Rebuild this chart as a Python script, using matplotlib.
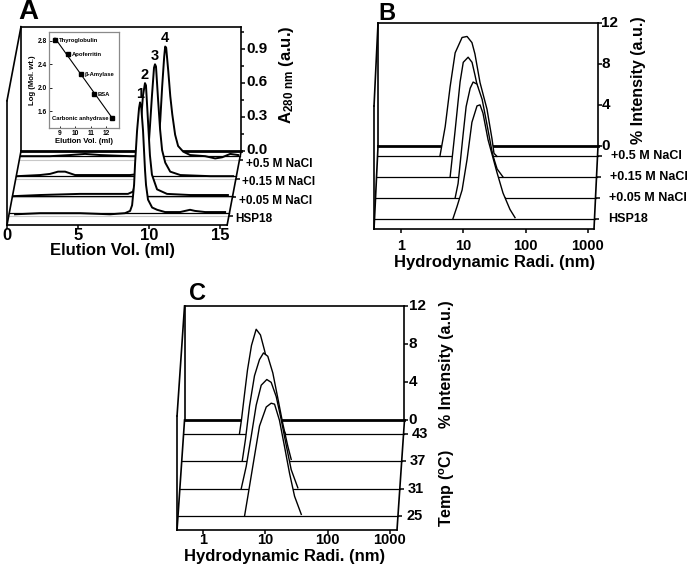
import numpy as np
import matplotlib
matplotlib.use("Agg")
import matplotlib.pyplot as plt

plt.rcParams["font.family"] = ["Liberation Sans", "DejaVu Sans"]
plt.rcParams["font.weight"] = "bold"
plt.rcParams["mathtext.fontset"] = "custom"
plt.rcParams["mathtext.rm"] = "Liberation Sans:bold"
plt.rcParams["mathtext.bf"] = "Liberation Sans:bold"
plt.rcParams["mathtext.it"] = "Liberation Sans:bold"

W, H = 691, 567

# ---------------- data ----------------
# Panel A: SEC elution profiles (elution volume ml, A280)
A_LABELS = ["+0.5 M NaCl", "+0.15 M NaCl", "+0.05 M NaCl", "HSP18"]
A_PEAK_TAGS = ["4", "3", "2", "1"]
A_DEPTHS = [0.07, 0.34, 0.61, 0.84]
A_X_05 = [0.08, 2.12, 3.53, 4.58, 5.64, 7.75, 9.16, 9.51, 9.73, 9.87, 10.01, 10.15, 10.22,
          10.29, 10.44, 10.58, 10.72, 10.92, 11.13, 11.49, 11.98, 13.04, 13.74, 14.23, 14.80, 15.36]
A_Y_05 = [0.0, 0.0, 0.01, 0.02, 0.01, 0.0, 0.0, 0.02, 0.13, 0.31, 0.62, 0.88, 0.97,
          0.96, 0.75, 0.53, 0.37, 0.19, 0.09, 0.04, 0.01, 0.0, -0.02, -0.01, 0.02, 0.01]
A_X_015 = [0.06, 1.68, 2.38, 2.94, 3.44, 4.14, 5.90, 8.01, 8.72, 9.07, 9.28, 9.42, 9.56, 9.70,
           9.77, 9.84, 9.99, 10.13, 10.27, 10.49, 10.84, 11.55, 13.65, 15.27]
A_Y_015 = [0.0, 0.01, 0.02, 0.04, 0.04, 0.01, 0.01, 0.01, 0.02, 0.05, 0.19, 0.45, 0.72, 0.96,
           0.99, 0.97, 0.67, 0.41, 0.23, 0.12, 0.04, 0.01, 0.0, 0.0]
A_X_005 = [0.04, 1.94, 4.75, 6.87, 8.13, 8.49, 8.70, 8.91, 9.05, 9.19, 9.33, 9.40, 9.54, 9.68,
           9.82, 10.18, 10.88, 12.5, 13.91, 15.17]
A_Y_005 = [0.0, 0.01, 0.02, 0.02, 0.02, 0.04, 0.14, 0.41, 0.67, 0.89, 1.0, 0.98, 0.67, 0.36,
           0.19, 0.06, 0.02, 0.01, 0.01, 0.01]
A_X_HSP = [0.41, 2.17, 4.99, 7.10, 8.15, 8.51, 8.65, 8.79, 8.86, 9.00, 9.14, 9.21, 9.28, 9.42,
           9.56, 9.63, 9.77, 10.06, 10.41, 10.97, 12.03, 12.73, 13.08, 13.79, 15.2]
A_Y_HSP = [-0.01, 0.0, 0.0, -0.01, 0.0, 0.02, 0.07, 0.25, 0.44, 0.73, 0.93, 0.98, 0.96, 0.73,
           0.38, 0.25, 0.12, 0.05, 0.03, 0.01, 0.01, 0.03, 0.02, 0.01, 0.01]

# Panel A inset: calibration standards
STD_NAMES = ["Thyroglobulin", "Apoferritin", "\u03b2-Amylase", "BSA", "Carbonic anhydrase"]
STD_VOL = [8.67, 9.54, 10.39, 11.23, 12.42]
STD_LOGMW = [2.81, 2.57, 2.23, 1.885, 1.476]

# Panel B: DLS, salt series (radius nm, % intensity)
B_LABELS = ["+0.5 M NaCl", "+0.15 M NaCl", "+0.05 M NaCl", "HSP18"]
B_X_05 = [3.7, 4.5, 5.4, 6.5, 8.4, 10.1, 12.1, 13.5, 16.3, 21.1, 25.4, 27.3, 30.5]
B_Y_05 = [0, 2.9, 6.8, 10.1, 11.6, 11.7, 11.1, 10.0, 7.2, 4.6, 1.7, 0.3, 0]
B_X_015 = [5.6, 6.7, 8.1, 9.1, 10.9, 12.6, 14.1, 17.0, 20.4, 24.5, 31.8, 39.7]
B_Y_015 = [0, 4.4, 9.3, 11.2, 11.7, 11.2, 9.9, 7.6, 5.4, 3.0, 0.8, 0]
B_X_005 = [7.0, 7.8, 8.4, 9.4, 10.5, 12.2, 13.6, 15.7, 19.0, 22.8, 27.4, 33.0, 39.7, 44.4]
B_Y_005 = [0, 1.4, 3.3, 6.2, 8.9, 10.7, 11.3, 11.1, 9.6, 7.1, 4.5, 2.0, 0.3, 0]
B_X_HSP = [6.7, 7.8, 9.4, 11.3, 13.5, 16.3, 18.2, 20.3, 24.5, 34.1, 42.6, 55.1, 66.4]
B_Y_HSP = [0, 1.2, 2.8, 5.8, 9.4, 11.0, 11.1, 10.3, 7.7, 4.5, 2.5, 0.9, 0.1]

# Panel C: DLS, temperature series
C_LABELS = ["43", "37", "31", "25"]
C_X_43 = [3.02, 3.25, 3.63, 4.06, 4.71, 5.6, 6.56, 7.61, 9.14, 11.4, 14.3, 16.5]
C_Y_43 = [0, 1.45, 4.1, 6.7, 9.3, 11.0, 10.4, 8.8, 6.5, 3.55, 0.9, 0]
C_X_37 = [3.58, 4.04, 4.69, 5.64, 6.78, 7.86, 9.22, 11.1, 13.3, 16.0, 19.3, 21.9]
C_Y_37 = [0, 2.3, 5.8, 9.0, 10.7, 11.4, 11.05, 9.3, 6.7, 4.0, 1.6, 0.2]
C_X_31 = [3.7, 4.45, 5.35, 6.44, 7.75, 9.53, 11.2, 13.5, 16.2, 19.5, 23.5, 30.0]
C_Y_31 = [0, 2.35, 5.5, 8.8, 10.9, 11.5, 11.2, 9.7, 7.3, 4.6, 2.0, 0.1]
C_X_25 = [4.48, 5.07, 6.1, 7.8, 10.0, 12.0, 13.6, 16.3, 19.7, 23.7, 28.5, 36.5]
C_Y_25 = [0, 2.1, 5.3, 9.5, 11.5, 11.9, 11.8, 10.1, 7.3, 4.5, 2.1, 0.2]

TICK_DEPTHS = [0.125, 0.375, 0.625, 0.875]


def proj_lin(dx, dy):
    def P(x, y, d):
        x, y, d = (np.asarray(v, float) for v in (x, y, d))
        return x - dx * d, y - dy * d
    return P


def proj_log(fx, dy):
    def P(x, y, d):
        x, y, d = (np.asarray(v, float) for v in (x, y, d))
        return x * 10 ** (-fx * d), y - dy * d
    return P


def add_ax(fig, px0, py0, px1, py1):
    ax = fig.add_axes([px0 / W, 1 - py1 / H, (px1 - px0) / W, (py1 - py0) / H])
    ax.set_axis_off()
    return ax


def draw_box(ax, P, x0, x1, ytop, lw=1.2):
    segs = [
        ([x0, x1], [ytop, ytop], [0, 0]),
        ([x1, x1], [0, ytop], [0, 0]),
        ([x0, x0], [0, ytop], [0, 0]),
        ([x0, x0], [0, ytop], [1, 1]),
        ([x0, x0], [ytop, ytop], [0, 1]),
        ([x0, x0], [0, 0], [0, 1]),
        ([x1, x1], [0, 0], [0, 1]),
        ([x0, x1], [0, 0], [1, 1]),
    ]
    for xs, ys, ds in segs:
        px, py = P(xs, ys, ds)
        ax.plot(px, py, color="k", lw=lw, zorder=50, solid_capstyle="projecting")
    px, py = P([x0, x1], [0, 0], [0, 0])
    ax.plot(px, py, color="k", lw=2.0, zorder=1)


def draw_traces(ax, P, x0, x1, traces, depths, lw_curve, lw_base):
    tops = []
    for i, ((xs, ys), d) in enumerate(zip(traces, depths)):
        z = 5 + 3 * i
        px, py = P(xs, ys, d)
        bx, by = P([xs[-1], xs[0]], [0, 0], d)
        ax.fill(np.r_[px, bx], np.r_[py, by], color="white", zorder=z, lw=0)
        lx, ly = P([x0, x1], [0, 0], d)
        ax.plot(lx, ly, color="k", lw=lw_base, zorder=z + 0.1)
        ax.plot(px, py, color="k", lw=lw_curve, zorder=z + 0.2, solid_joinstyle="round")
        k = int(np.argmax(ys))
        tops.append((px[k], py[k]))
    return tops


def ticks(ax, P, pts, marker, ms, mew=1.1):
    for x, y, d in pts:
        px, py = P(x, y, d)
        ax.plot([px], [py], ls="none", marker=marker, ms=ms, mew=mew, color="k",
                zorder=60, clip_on=False)


def label(ax, P, x, y, d, s, off, ha, va, fs):
    px, py = P(x, y, d)
    ax.annotate(s, xy=(float(px), float(py)), xytext=off, textcoords="offset points",
                ha=ha, va=va, fontsize=fs, fontweight="bold", zorder=70)


fig = plt.figure(figsize=(W / 100, H / 100), dpi=100)

# ---------------- Panel A ----------------
axA = add_ax(fig, 0, 0, 340, 270)
axA.set_xlim(-1.479, 22.46)
axA.set_ylim(-1.053, 1.336)
PA = proj_lin(0.986, 0.655)
ax0, ax1, atop = 0.0, 15.5, 1.1
for d in TICK_DEPTHS:
    gx, gy = PA([ax0, ax1], [0, 0], d)
    axA.plot(gx, gy, color="#c8c8c8", lw=0.8, zorder=0.5)
draw_box(axA, PA, ax0, ax1, atop)
a_traces = [(A_X_05, A_Y_05), (A_X_015, A_Y_015), (A_X_005, A_Y_005), (A_X_HSP, A_Y_HSP)]
tops = draw_traces(axA, PA, ax0, ax1, a_traces, A_DEPTHS, 1.4, 0.9)
for (tx, ty), tag in zip(tops, A_PEAK_TAGS):
    axA.annotate(tag, xy=(tx, ty), xytext=(0, 1), textcoords="offset points",
                 ha="center", va="bottom", fontsize=10.5, fontweight="bold", zorder=70)
ticks(axA, PA, [(ax1, v, 0) for v in [0, 0.3, 0.6, 0.9]], 1, 3.2)
ticks(axA, PA, [(ax1, v, 0) for v in [0.15, 0.45, 0.75, 1.05]], 1, 2.0)
ticks(axA, PA, [(ax1, 0, d) for d in TICK_DEPTHS], 1, 3.2)
ticks(axA, PA, [(v, 0, 1) for v in [0, 5, 10, 15]], 3, 3.0)
for v in [0, 0.3, 0.6, 0.9]:
    label(axA, PA, ax1, v, 0, f"{v:.1f}", (4, 0.5), "left", "center", 11)
for d, s in zip(TICK_DEPTHS, A_LABELS):
    label(axA, PA, ax1, 0, d, s, (4.5, -2.5), "left", "center", 8.5)
for v in [0, 5, 10, 15]:
    label(axA, PA, v, 0, 1, str(v), (0, -2), "center", "top", 12)
fig.text(113 / W, 1 - 250 / H, "Elution Vol. (ml)", ha="center", va="center",
         fontsize=12, fontweight="bold")
fig.text(286 / W, 1 - 75 / H, r"A$_{\rm 280\ nm}$ (a.u.)", ha="center", va="center",
         rotation=90, fontsize=12, fontweight="bold")
fig.text(28 / W, 1 - 12 / H, "A", ha="center", va="center", fontsize=20, fontweight="bold")

# inset
axI = fig.add_axes([49 / W, 1 - 128 / H, 70 / W, 96 / H])
axI.set_zorder(5)
axI.set_facecolor("white")
coef = np.polyfit(STD_VOL, STD_LOGMW, 1)
lx = np.array([STD_VOL[0], STD_VOL[-1]])
axI.plot(lx, np.polyval(coef, lx), color="k", lw=0.8)
axI.plot(STD_VOL, STD_LOGMW, ls="none", marker="s", ms=2.2, color="k")
for i, (vx, vy, nm) in enumerate(zip(STD_VOL, STD_LOGMW, STD_NAMES)):
    if i == len(STD_NAMES) - 1:
        axI.annotate(nm, xy=(vx, vy), xytext=(-2.5, 0), textcoords="offset points",
                     ha="right", va="center", fontsize=4.2, fontweight="bold")
    else:
        axI.annotate(nm, xy=(vx, vy), xytext=(2.5, 0), textcoords="offset points",
                     ha="left", va="center", fontsize=4.2, fontweight="bold")
axI.set_xlim(8.28, 12.85)
axI.set_ylim(1.31, 2.948)
axI.set_xticks([9, 10, 11, 12])
axI.set_yticks([1.6, 2.0, 2.4, 2.8])
axI.set_yticklabels(["1.6", "2.0", "2.4", "2.8"])
axI.tick_params(labelsize=4.8, length=1.8, width=0.6, direction="in", pad=1.5)
for s in axI.spines.values():
    s.set_color("#8a8a8a")
    s.set_linewidth(0.9)
axI.set_xlabel("Elution Vol. (ml)", fontsize=5.6, fontweight="bold", labelpad=1)
axI.set_ylabel("Log (Mol. wt.)", fontsize=5.6, fontweight="bold", labelpad=1.5)

# ---------------- Panel B ----------------
axB = add_ax(fig, 340, 0, 691, 290)
axB.set_xscale("log")
axB.set_xlim(10 ** -1.0433, 10 ** 4.5907)
axB.set_ylim(-14.049, 14.244)
PB = proj_log(4 / 62.3, 8.1)
bx0, bx1, btop = 0.369, 1253, 12
draw_box(axB, PB, bx0, bx1, btop)
b_traces = [(B_X_05, B_Y_05), (B_X_015, B_Y_015), (B_X_005, B_Y_005), (B_X_HSP, B_Y_HSP)]
draw_traces(axB, PB, bx0, bx1, b_traces, TICK_DEPTHS, 1.0, 0.9)
ticks(axB, PB, [(bx1, v, 0) for v in [0, 4, 8, 12]], 1, 3.2)
ticks(axB, PB, [(bx1, 0, d) for d in TICK_DEPTHS], 1, 3.2)
ticks(axB, PB, [(v, 0, 1) for v in [1, 10, 100, 1000]], 3, 3.0)
for v in [0, 4, 8, 12]:
    label(axB, PB, bx1, v, 0, str(v), (2.5, 0), "left", "center", 11)
for d, s in zip(TICK_DEPTHS, B_LABELS):
    label(axB, PB, bx1, 0, d, s, (10, 0), "left", "center", 9)
for v in [1, 10, 100, 1000]:
    label(axB, PB, v, 0, 1, str(v), (0, -7), "center", "top", 10.5)
fig.text(495 / W, 1 - 263 / H, "Hydrodynamic Radi. (nm)", ha="center", va="center",
         fontsize=12, fontweight="bold")
fig.text(639 / W, 1 - 80 / H, "% Intensity (a.u.)", ha="center", va="center",
         rotation=90, fontsize=11.5, fontweight="bold")
fig.text(387 / W, 1 - 13 / H, "B", ha="center", va="center", fontsize=17, fontweight="bold")

# ---------------- Panel C ----------------
axC = add_ax(fig, 150, 280, 500, 567)
axC.set_xscale("log")
axC.set_xlim(10 ** -0.9711, 10 ** 4.6469)
axC.set_ylim(-15.474, 14.737)
PC = proj_log(7.5 / 62.3, 11.58)
cx0, cx1, ctop = 0.383, 1300, 12
draw_box(axC, PC, cx0, cx1, ctop)
c_traces = [(C_X_43, C_Y_43), (C_X_37, C_Y_37), (C_X_31, C_Y_31), (C_X_25, C_Y_25)]
draw_traces(axC, PC, cx0, cx1, c_traces, TICK_DEPTHS, 1.0, 0.9)
ticks(axC, PC, [(cx1, v, 0) for v in [0, 4, 8, 12]], 1, 3.2)
ticks(axC, PC, [(cx1, 0, d) for d in TICK_DEPTHS], 1, 3.2)
ticks(axC, PC, [(v, 0, 1) for v in [1, 10, 100, 1000]], 3, 3.0)
for v in [0, 4, 8, 12]:
    label(axC, PC, cx1, v, 0, str(v), (3, 0), "left", "center", 11)
for d, s in zip(TICK_DEPTHS, C_LABELS):
    label(axC, PC, cx1, 0, d, s, (6, 0), "left", "center", 10.5)
for v in [1, 10, 100, 1000]:
    label(axC, PC, v, 0, 1, str(v), (0, -2.5), "center", "top", 10.5)
fig.text(285 / W, 1 - 556 / H, "Hydrodynamic Radi. (nm)", ha="center", va="center",
         fontsize=12, fontweight="bold")
fig.text(447 / W, 1 - 364 / H, "% Intensity (a.u.)", ha="center", va="center",
         rotation=90, fontsize=11.5, fontweight="bold")
fig.text(447 / W, 1 - 488 / H, r"Temp ($^{\rm o}$C)", ha="center", va="center",
         rotation=90, fontsize=11.5, fontweight="bold")
fig.text(197 / W, 1 - 293 / H, "C", ha="center", va="center", fontsize=17, fontweight="bold")

fig.savefig("out.png", dpi=100)
